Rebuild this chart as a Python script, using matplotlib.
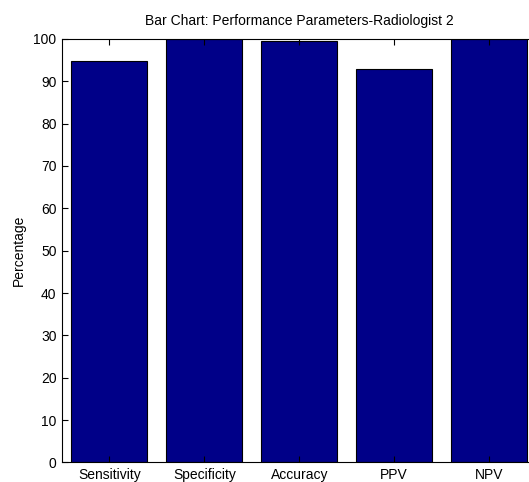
import matplotlib
matplotlib.use("Agg")
import matplotlib.pyplot as plt
import numpy as np

# values
categories = ["Sensitivity", "Specificity", "Accuracy", "PPV", "NPV"]
values = [94.74, 100.0, 99.4, 92.9, 100.0]
yticks = [0, 10, 20, 30, 40, 50, 60, 70, 80, 90, 100]

plt.rcParams['font.family'] = ['Liberation Sans', 'DejaVu Sans']

fig = plt.figure(figsize=(5.29, 4.82), dpi=100)
# axes runs past the right edge of the image, as in the reference
ax = fig.add_axes([0.1172, 0.0405, 0.897, 0.879])

x = np.arange(1, len(categories) + 1)
ax.bar(x, values, width=0.8, color='#000088', edgecolor='black', linewidth=0.8)

ax.set_xlim(0.5, 5.5)
ax.set_ylim(0, 100)
ax.set_xticks(x)
ax.set_xticklabels(categories)
ax.set_yticks(yticks)
ax.tick_params(direction='in', length=4, width=0.8, top=True, right=True,
               labelsize=10, pad=4, colors='black')
for s in ax.spines.values():
    s.set_linewidth(0.8)

ax.set_ylabel("Percentage", fontsize=10, labelpad=5)
ax.set_title("Bar Chart: Performance Parameters-Radiologist 2", fontsize=10, pad=10)

fig.savefig("out.png", dpi=100)
